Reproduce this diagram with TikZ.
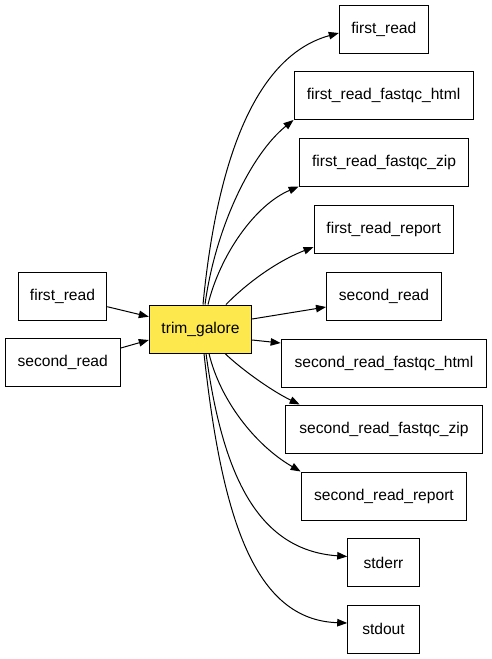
\documentclass[tikz,border=0pt]{standalone}
\usepackage{fontspec}
\setmainfont{Liberation Sans}
\usetikzlibrary{arrows.meta}
\definecolor{tgyellow}{RGB}{253,233,77}
\begin{document}
\begin{tikzpicture}[x=1pt,y=-1pt,
  box/.style={draw=black,line width=1pt,minimum height=48pt,inner sep=0pt,font=\fontsize{15.6}{18}\selectfont},
  edge/.style={line width=1pt,-{Triangle[length=10pt,width=7.5pt]}}]
\useasboundingbox (0,0) rectangle (492,659);
\node[box,minimum width=88.4pt] (in1) at (62.5,296) {first\_read};
\node[box,minimum width=115.3pt] (in2) at (62.7,362.5) {second\_read};
\node[box,minimum width=102.4pt,fill=tgyellow] (tg) at (200.5,329) {trim\_galore};
\node[box,minimum width=89pt] (o1) at (383.8,29) {first\_read};
\node[box,minimum width=179pt] (o2) at (383.5,95.5) {first\_read\_fastqc\_html};
\node[box,minimum width=169.7pt] (o3) at (384,162) {first\_read\_fastqc\_zip};
\node[box,minimum width=139.3pt] (o4) at (383.7,229) {first\_read\_report};
\node[box,minimum width=115pt] (o5) at (384,296) {second\_read};
\node[box,minimum width=205.7pt] (o6) at (384,363) {second\_read\_fastqc\_html};
\node[box,minimum width=196.3pt] (o7) at (384,429) {second\_read\_fastqc\_zip};
\node[box,minimum width=165.7pt] (o8) at (384,496) {second\_read\_report};
\node[box,minimum width=71.6pt] (o9) at (383.5,562.5) {stderr};
\node[box,minimum width=71.6pt] (o10) at (383.5,629) {stdout};
\draw[edge] ([yshift=-10.7pt]in1.east) -- ([yshift=12.3pt]tg.west);
\draw[edge] ([yshift=14.5pt]in2.east) -- ([yshift=-11pt]tg.west);
\draw[edge] ([xshift=2.5pt]tg.north) .. controls (215,180) and (248,58) .. ([yshift=-4pt]o1.west);
\draw[edge] ([xshift=4.5pt]tg.north) .. controls (215,230) and (250,155) .. (o2.south west);
\draw[edge] ([xshift=7.5pt]tg.north) .. controls (220,255) and (255,205) .. (o3.south west);
\draw[edge] ([xshift=25.5pt]tg.north) .. controls (245,285) and (275,262) .. ([yshift=6.5pt]o4.south west);
\draw[edge] ([yshift=10pt]tg.east) -- ([yshift=-11pt]o5.west);
\draw[edge] ([yshift=-11pt]tg.east) -- ([yshift=20pt]o6.west);
\draw[edge] ([xshift=24.5pt]tg.south) .. controls (240,368) and (270,390) .. ([xshift=14.3pt]o7.north west);
\draw[edge] ([xshift=8.5pt]tg.south) .. controls (220,400) and (255,445) .. (o8.north west);
\draw[edge] ([xshift=5.5pt]tg.south) .. controls (222,470) and (255,550) .. ([yshift=6pt]o9.west);
\draw[edge] ([xshift=3.5pt]tg.south) .. controls (222,520) and (255,620) .. ([yshift=6pt]o10.west);
\end{tikzpicture}
\end{document}
